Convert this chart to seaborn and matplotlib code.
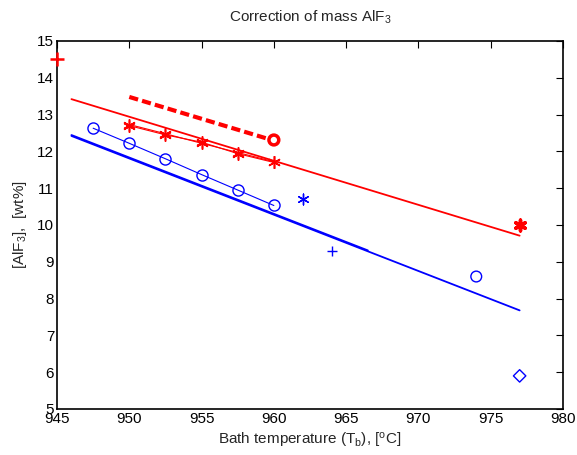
import matplotlib
matplotlib.use("Agg")
import matplotlib.pyplot as plt
import seaborn as sns

# ---- data ----
red_star_x = [950, 952.5, 955, 957.5, 960]
red_star_y1 = [12.73, 12.48, 12.22, 11.97, 11.72]
red_star_y2 = [12.70, 12.45, 12.25, 11.94, 11.70]
blue_circ_x = [947.5, 950, 952.5, 955, 957.5, 960]
blue_circ_y = [12.63, 12.22, 11.80, 11.37, 10.95, 10.53]
red_fit_x = [946, 977]
red_fit_y = [13.42, 9.71]
blue_fit_x = [946, 977]
blue_fit_y = [12.42, 7.68]
blue_fit2_x = [946, 966.5]
blue_fit2_y = [12.445, 9.31]
red_dash_x = [950, 959.6]
red_dash_y = [13.48, 12.34]
red_plus = ([945], [14.5])
red_circle = ([960], [12.31])
red_ast = ([977], [10.0])
blue_ast = ([962], [10.7])
blue_plus = ([964], [9.3])
blue_circle = ([974], [8.6])
blue_diamond = ([977], [5.9])
x_ticks = [945, 950, 955, 960, 965, 970, 975, 980]
y_ticks = [5, 6, 7, 8, 9, 10, 11, 12, 13, 14, 15]

sns.set_style("white")
plt.rcParams['font.family'] = ['Liberation Sans', 'DejaVu Sans']
plt.rcParams['mathtext.fontset'] = 'custom'
plt.rcParams['mathtext.rm'] = 'Liberation Sans'
plt.rcParams['mathtext.it'] = 'Liberation Sans'
plt.rcParams['font.size'] = 10

fig = plt.figure(figsize=(5.77, 4.55), dpi=100)
ax = fig.add_axes([57/577, 46/455, 506/577, 368/455])

RED = '#ff0000'
BLUE = '#0000ff'
AST = (6, 2, 0)

# fitted lines
sns.lineplot(x=red_fit_x, y=red_fit_y, ax=ax, color=RED, lw=1.3)
sns.lineplot(x=blue_fit_x, y=blue_fit_y, ax=ax, color=BLUE, lw=1.3)
sns.lineplot(x=blue_fit2_x, y=blue_fit2_y, ax=ax, color=BLUE, lw=1.3)
# dashed red
sns.lineplot(x=red_dash_x, y=red_dash_y, ax=ax, color=RED, lw=3, linestyle=(0, (2.2, 1.0)))
# star series
sns.lineplot(x=red_star_x, y=red_star_y1, ax=ax, color=RED, lw=0.8, marker=AST,
             markersize=9, markeredgewidth=1, markeredgecolor=RED, sort=False)
sns.lineplot(x=red_star_x, y=red_star_y2, ax=ax, color=RED, lw=0.8, marker=AST,
             markersize=9, markeredgewidth=1, markeredgecolor=RED, sort=False)
# blue circles
sns.lineplot(x=blue_circ_x, y=blue_circ_y, ax=ax, color=BLUE, lw=0.8, marker='o',
             markersize=8, markerfacecolor='none', markeredgecolor=BLUE, markeredgewidth=1, sort=False)

# single points
sns.scatterplot(x=red_plus[0], y=red_plus[1], ax=ax, marker='+', s=90, color=RED, linewidth=1.8, clip_on=False, zorder=5)
sns.scatterplot(x=red_circle[0], y=red_circle[1], ax=ax, marker='o', s=50, facecolor='none', edgecolor=RED, linewidth=2.5)
sns.scatterplot(x=red_ast[0], y=red_ast[1], ax=ax, marker=AST, s=60, color=RED, linewidth=2.5)
sns.scatterplot(x=blue_ast[0], y=blue_ast[1], ax=ax, marker=AST, s=60, color=BLUE, linewidth=1)
sns.scatterplot(x=blue_plus[0], y=blue_plus[1], ax=ax, marker='+', s=60, color=BLUE, linewidth=1)
sns.scatterplot(x=blue_circle[0], y=blue_circle[1], ax=ax, marker='o', s=60, facecolor='none', edgecolor=BLUE, linewidth=1)
sns.scatterplot(x=blue_diamond[0], y=blue_diamond[1], ax=ax, marker='D', s=40, facecolor='none', edgecolor=BLUE, linewidth=1)

ax.set_xlim(945, 980)
ax.set_ylim(5, 15)
ax.set_xticks(x_ticks)
ax.set_yticks(y_ticks)
ax.tick_params(direction='in', length=5, width=0.8, top=True, right=True,
               labelsize=11, pad=2, colors='black')
for s in ax.spines.values():
    s.set_visible(True)
    s.set_color('black')
    s.set_linewidth(1.2)

ax.set_title('Correction of mass AlF$_3$', fontsize=11, pad=14)
ax.set_xlabel('Bath temperature (T$_b$), [$^o$C]', fontsize=11, labelpad=4)
ax.set_ylabel('[AlF$_3$],  [wt%]', fontsize=11, labelpad=6)

fig.savefig('out.png', dpi=100)
